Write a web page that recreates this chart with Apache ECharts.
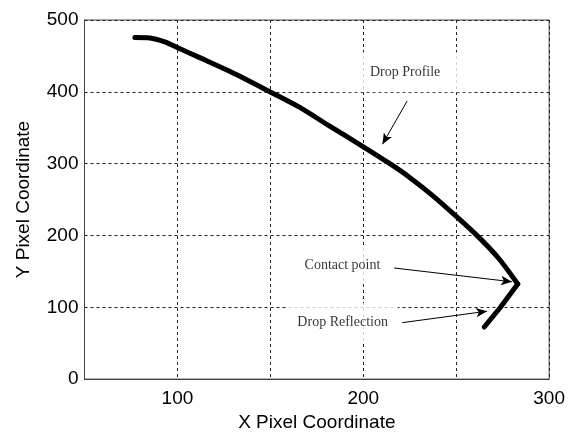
<!DOCTYPE html>
<html>
<head>
<meta charset="utf-8">
<script src="https://cdn.jsdelivr.net/npm/echarts@6/dist/echarts.min.js"></script>
<style>
  html, body { margin: 0; padding: 0; background: #fff; }
  #chart { width: 568px; height: 437px; }
</style>
</head>
<body>
<div id="chart"></div>
<script>
// Drop profile (pixel coordinates)
const profileX = [77.1, 85.1, 93.2, 100.2, 112.0, 128.1, 149.5, 165.6, 181.7, 199.4, 213.9, 224.6, 237.0, 249.9, 262.2, 272.9, 283.1];
const profileY = [475.6, 475.0, 469.5, 461.3, 447.6, 428.5, 400.4, 378.6, 352.6, 324.5, 300.6, 281.5, 256.2, 226.8, 197.3, 167.9, 132.4];
// Reflection of the drop below the contact point
const reflectionX = [283.1, 273.8, 265.1];
const reflectionY = [132.4, 100.0, 72.5];

const xTicks = [100, 200, 300];
const yTicks = [0, 100, 200, 300, 400, 500];

// Annotations: text position and arrow (from -> to) in data coordinates
const noteText = ['Drop Profile', 'Contact point', 'Drop Reflection'];
const noteAt = [[222.5, 427.4], [188.8, 158.4], [188.9, 79.0]];
const arrowFrom = [[223.6, 387.2], [216.6, 154.7], [221.0, 78.6]];
const arrowTo = [[210.3, 327.0], [280.0, 135.5], [266.6, 94.5]];

const profile = profileX.map((x, i) => [x, profileY[i]]);
const reflection = reflectionX.map((x, i) => [x, reflectionY[i]]);

const notePadding = [[13, 33], [12, 10], [12, 10]];

const chart = echarts.init(document.getElementById('chart'), null, { renderer: 'canvas' });

const sansFont = '"Liberation Sans", Arial, Helvetica, sans-serif';
const serifFont = '"Liberation Serif", "Times New Roman", serif';
const curveStyle = { color: '#000', width: 5, cap: 'round', join: 'round' };

chart.setOption({
  animation: false,
  backgroundColor: '#fff',
  grid: {
    left: 84.5, right: 18, top: 20, bottom: 51,
    show: true, borderColor: '#444', borderWidth: 1, backgroundColor: '#fff'
  },
  xAxis: {
    type: 'value', min: 50, max: 300, interval: 50,
    name: 'X Pixel Coordinate', nameLocation: 'middle', nameGap: 33,
    nameTextStyle: { color: '#000', fontFamily: sansFont, fontSize: 19 },
    axisLine: { show: true, lineStyle: { color: '#444', width: 1 } },
    axisTick: { show: false },
    axisLabel: {
      color: '#000', fontFamily: sansFont, fontSize: 19, margin: 10,
      formatter: v => xTicks.includes(v) ? String(v) : ''
    },
    splitLine: { show: true, lineStyle: { color: '#222', width: 1, type: [3, 3] } }
  },
  yAxis: {
    type: 'value', min: 0, max: 500, interval: 100,
    name: 'Y Pixel Coordinate', nameLocation: 'middle', nameGap: 51,
    nameTextStyle: { color: '#000', fontFamily: sansFont, fontSize: 19 },
    axisLine: { show: true, lineStyle: { color: '#444', width: 1 } },
    axisTick: { show: false },
    axisLabel: {
      color: '#000', fontFamily: sansFont, fontSize: 19, margin: 6,
      formatter: v => yTicks.includes(v) ? String(v) : ''
    },
    splitLine: { show: true, lineStyle: { color: '#222', width: 1, type: [3, 3] } }
  },
  series: [
    {
      // annotation texts on white boxes
      type: 'scatter', z: 2, silent: true,
      symbolSize: 0,
      data: noteText.map((t, i) => ({
        value: noteAt[i],
        label: {
          show: true, position: 'inside', formatter: t,
          color: '#000', fontFamily: serifFont, fontSize: 14,
          backgroundColor: '#fff', padding: notePadding[i]
        }
      }))
    },
    {
      name: 'Drop Profile',
      type: 'line', z: 3, silent: true,
      data: profile,
      showSymbol: false, smooth: 0.3,
      lineStyle: curveStyle,
      markLine: {
        silent: true, animation: false,
        symbol: ['none', 'arrow'], symbolSize: [7, 11],
        label: { show: false },
        lineStyle: { color: '#000', width: 1, type: 'solid' },
        data: arrowFrom.map((p, i) => [{ coord: p }, { coord: arrowTo[i] }])
      }
    },
    {
      name: 'Drop Reflection',
      type: 'line', z: 3, silent: true,
      data: reflection,
      showSymbol: false, smooth: false,
      lineStyle: curveStyle
    }
  ]
});
</script>
</body>
</html>
